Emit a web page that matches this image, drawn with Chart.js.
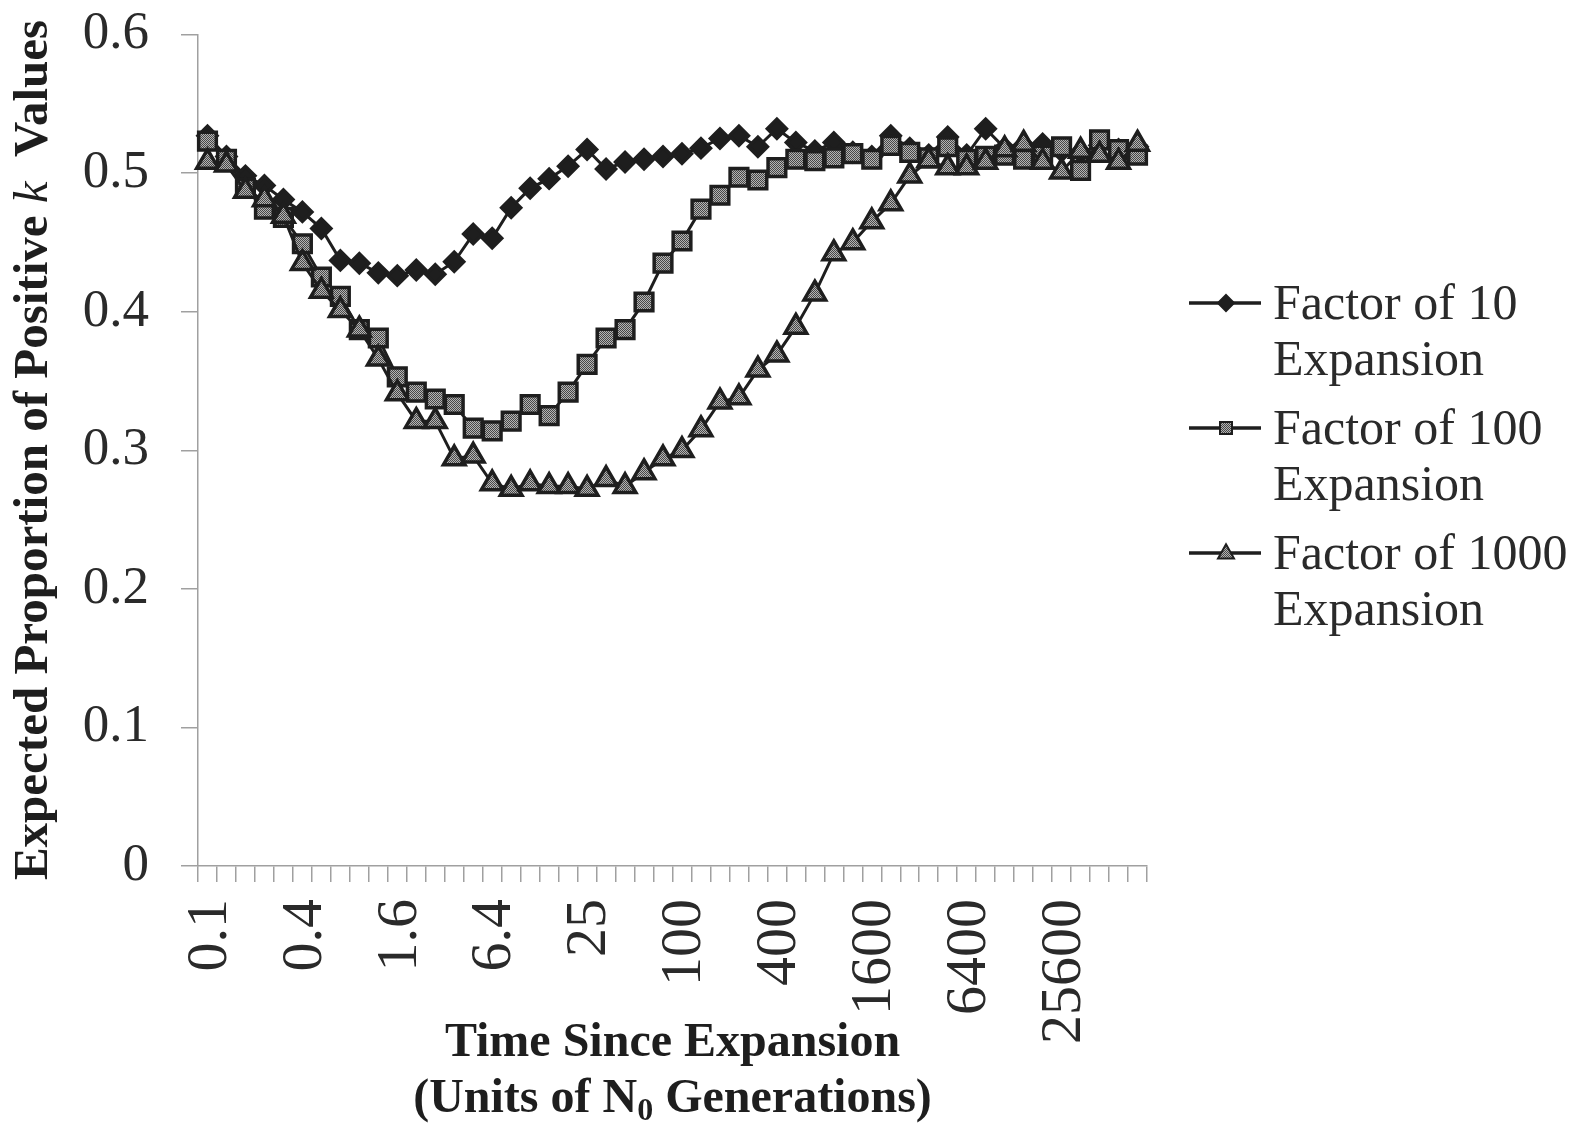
<!DOCTYPE html>
<html>
<head>
<meta charset="utf-8">
<script src="https://cdn.jsdelivr.net/npm/chart.js"></script>
<style>
  html, body { margin: 0; padding: 0; background: #fff; }
  #wrap { width: 1585px; height: 1133px; position: relative; }
</style>
</head>
<body>
<div id="wrap"><canvas id="chart"></canvas></div>
<script>
// 50 time steps, only every 5th one carries a label (factor 4 apart)
const tickLabels = ['0.1', '0.4', '1.6', '6.4', '25', '100', '400', '1600', '6400', '25600']
const categories = []
tickLabels.forEach(t => { categories.push(t, '', '', '', '') })

const factor10 = [
  0.527, 0.512, 0.498, 0.491, 0.481, 0.472, 0.460, 0.437, 0.435, 0.428,
  0.426, 0.430, 0.427, 0.436, 0.456, 0.453, 0.475, 0.489, 0.496, 0.505,
  0.517, 0.503, 0.508, 0.510, 0.512, 0.514, 0.518, 0.525, 0.527, 0.519,
  0.532, 0.522, 0.516, 0.522, 0.515, 0.512, 0.527, 0.518, 0.513, 0.526,
  0.513, 0.532, 0.518, 0.520, 0.521, 0.516, 0.515, 0.520, 0.517, 0.519
]
const factor100 = [
  0.523, 0.510, 0.489, 0.474, 0.468, 0.449, 0.425, 0.411, 0.387, 0.381,
  0.353, 0.342, 0.337, 0.333, 0.316, 0.314, 0.321, 0.333, 0.325, 0.342,
  0.362, 0.381, 0.387, 0.407, 0.435, 0.451, 0.474, 0.484, 0.497, 0.495,
  0.504, 0.510, 0.509, 0.511, 0.514, 0.510, 0.520, 0.515, 0.511, 0.519,
  0.510, 0.512, 0.513, 0.510, 0.513, 0.519, 0.502, 0.524, 0.517, 0.513
]
const factor1000 = [
  0.508, 0.506, 0.487, 0.481, 0.469, 0.435, 0.415, 0.401, 0.387, 0.366,
  0.341, 0.321, 0.321, 0.294, 0.296, 0.276, 0.272, 0.276, 0.274, 0.274,
  0.272, 0.279, 0.274, 0.284, 0.294, 0.300, 0.315, 0.335, 0.338, 0.358,
  0.369, 0.389, 0.413, 0.442, 0.450, 0.465, 0.478, 0.498, 0.509, 0.504,
  0.504, 0.508, 0.517, 0.521, 0.508, 0.501, 0.516, 0.513, 0.508, 0.521
]
const seriesNames = [['Factor of 10', 'Expansion'], ['Factor of 100', 'Expansion'], ['Factor of 1000', 'Expansion']]

const SERIF = '"Liberation Serif", "Times New Roman", serif'
const INK = '#1e1e1e'
const AXIS = '#a0a0a0'

function dither() {
    // grey checker like the printed marker fill
    const c = document.createElement('canvas')
    c.width = 2; c.height = 2
    const g = c.getContext('2d')
    g.fillStyle = '#b4b4b4'; g.fillRect(0, 0, 2, 2)
    g.fillStyle = '#484848'; g.fillRect(0, 0, 1, 1); g.fillRect(1, 1, 1, 1)
    return g.createPattern(c, 'repeat')
}
const grey = dither()

function marker(ctx, style, x, y, r) {
    ctx.beginPath()
    if (style === 'diamond') {
        ctx.moveTo(x, y - r); ctx.lineTo(x + r, y); ctx.lineTo(x, y + r); ctx.lineTo(x - r, y)
    } else if (style === 'square') {
        ctx.rect(x - r, y - r, 2 * r, 2 * r)
    } else {
        ctx.moveTo(x, y - r * 1.1); ctx.lineTo(x + r, y + r * 0.7); ctx.lineTo(x - r, y + r * 0.7)
    }
    ctx.closePath()
    ctx.fillStyle = style === 'diamond' ? INK : grey
    ctx.fill()
    ctx.lineWidth = 2
    ctx.strokeStyle = INK
    ctx.stroke()
}

const textPlugin = {
    id: 'texts',
    afterDraw(chart) {
        const ctx = chart.ctx
        const area = chart.chartArea
        ctx.save()
        ctx.fillStyle = INK

        // y title, k in italic
        const parts = [
            ['Expected Proportion of Positive ', 'bold 49px ' + SERIF],
            ['k', 'italic 49px ' + SERIF],
            ['  Values', 'bold 49px ' + SERIF]
        ]
        let total = 0
        parts.forEach(p => { ctx.font = p[1]; total += ctx.measureText(p[0]).width })
        ctx.save()
        ctx.translate(34, 450)
        ctx.rotate(-Math.PI / 2)
        ctx.textBaseline = 'middle'
        ctx.textAlign = 'left'
        let x = -total / 2
        parts.forEach(p => {
            ctx.font = p[1]
            ctx.fillText(p[0], x, 0)
            x += ctx.measureText(p[0]).width
        })
        ctx.restore()

        // x title, two lines, N with subscript 0
        const cx = (area.left + area.right) / 2
        ctx.textBaseline = 'alphabetic'
        ctx.textAlign = 'center'
        ctx.font = 'bold 48px ' + SERIF
        ctx.fillText('Time Since Expansion', cx, 1056)
        const a = '(Units of N', b = '0', c = ' Generations)'
        ctx.font = 'bold 48px ' + SERIF
        const wa = ctx.measureText(a).width, wc = ctx.measureText(c).width
        ctx.font = 'bold 32px ' + SERIF
        const wb = ctx.measureText(b).width
        let sx = cx - (wa + wb + wc) / 2
        ctx.textAlign = 'left'
        ctx.font = 'bold 48px ' + SERIF
        ctx.fillText(a, sx, 1112)
        ctx.font = 'bold 32px ' + SERIF
        ctx.fillText(b, sx + wa, 1120)
        ctx.font = 'bold 48px ' + SERIF
        ctx.fillText(c, sx + wa + wb, 1112)

        // legend
        const styles = ['diamond', 'square', 'triangle']
        const sizes = [8, 6, 8]
        ctx.font = '50px ' + SERIF
        seriesNames.forEach((name, i) => {
            const y = 303 + i * 125
            ctx.beginPath()
            ctx.moveTo(1189, y); ctx.lineTo(1261, y)
            ctx.lineWidth = 3.5
            ctx.strokeStyle = INK
            ctx.stroke()
            marker(ctx, styles[i], 1226, y, sizes[i])
            ctx.fillStyle = '#2a2a2a'
            ctx.fillText(name[0], 1273, y + 16)
            ctx.fillText(name[1], 1273, y + 72)
        })
        ctx.restore()
    }
}

function dataset(values, style, radius, order) {
    return {
        data: values,
        borderColor: INK,
        borderWidth: 3,
        pointStyle: style,
        pointRadius: radius,
        pointBorderWidth: 3.5,
        pointBorderColor: INK,
        pointBackgroundColor: style === 'rectRot' ? INK : grey,
        tension: 0,
        order: order,
        clip: false
    }
}

new Chart(document.getElementById('chart'), {
    type: 'line',
    data: {
        labels: categories,
        datasets: [
            dataset(factor10, 'rectRot', 9.5, 2),
            dataset(factor100, 'rect', 12.5, 1),
            dataset(factor1000, 'triangle', 12.5, 0)
        ]
    },
    options: {
        responsive: true,
        maintainAspectRatio: false,
        animation: false,
        layout: { padding: { left: 0, right: 438, top: 34.5, bottom: 0 } },
        plugins: {
            legend: { display: false },
            tooltip: { enabled: false }
        },
        scales: {
            x: {
                type: 'category',
                offset: true,
                grid: { offset: true, drawOnChartArea: false, tickLength: 16, color: AXIS, lineWidth: 1.5 },
                border: { color: AXIS, width: 1.5 },
                ticks: {
                    autoSkip: false, minRotation: 90, maxRotation: 90, padding: 17, labelOffset: 3,
                    color: '#2a2a2a', font: { family: SERIF, size: 58 }
                },
                afterFit: s => { s.height = 267; s.paddingLeft = 0; s.paddingRight = 0 }
            },
            y: {
                min: 0, max: 0.6,
                grid: { drawOnChartArea: false, tickLength: 17, color: AXIS, lineWidth: 1.5 },
                border: { color: AXIS, width: 1.5 },
                ticks: {
                    stepSize: 0.1, padding: 32, color: '#2a2a2a',
                    font: { family: SERIF, size: 53 },
                    callback: v => String(+v.toFixed(1))
                },
                afterFit: s => { s.width = 198; s.paddingTop = 0; s.paddingBottom = 0 }
            }
        }
    },
    plugins: [textPlugin]
})
</script>
</body>
</html>
